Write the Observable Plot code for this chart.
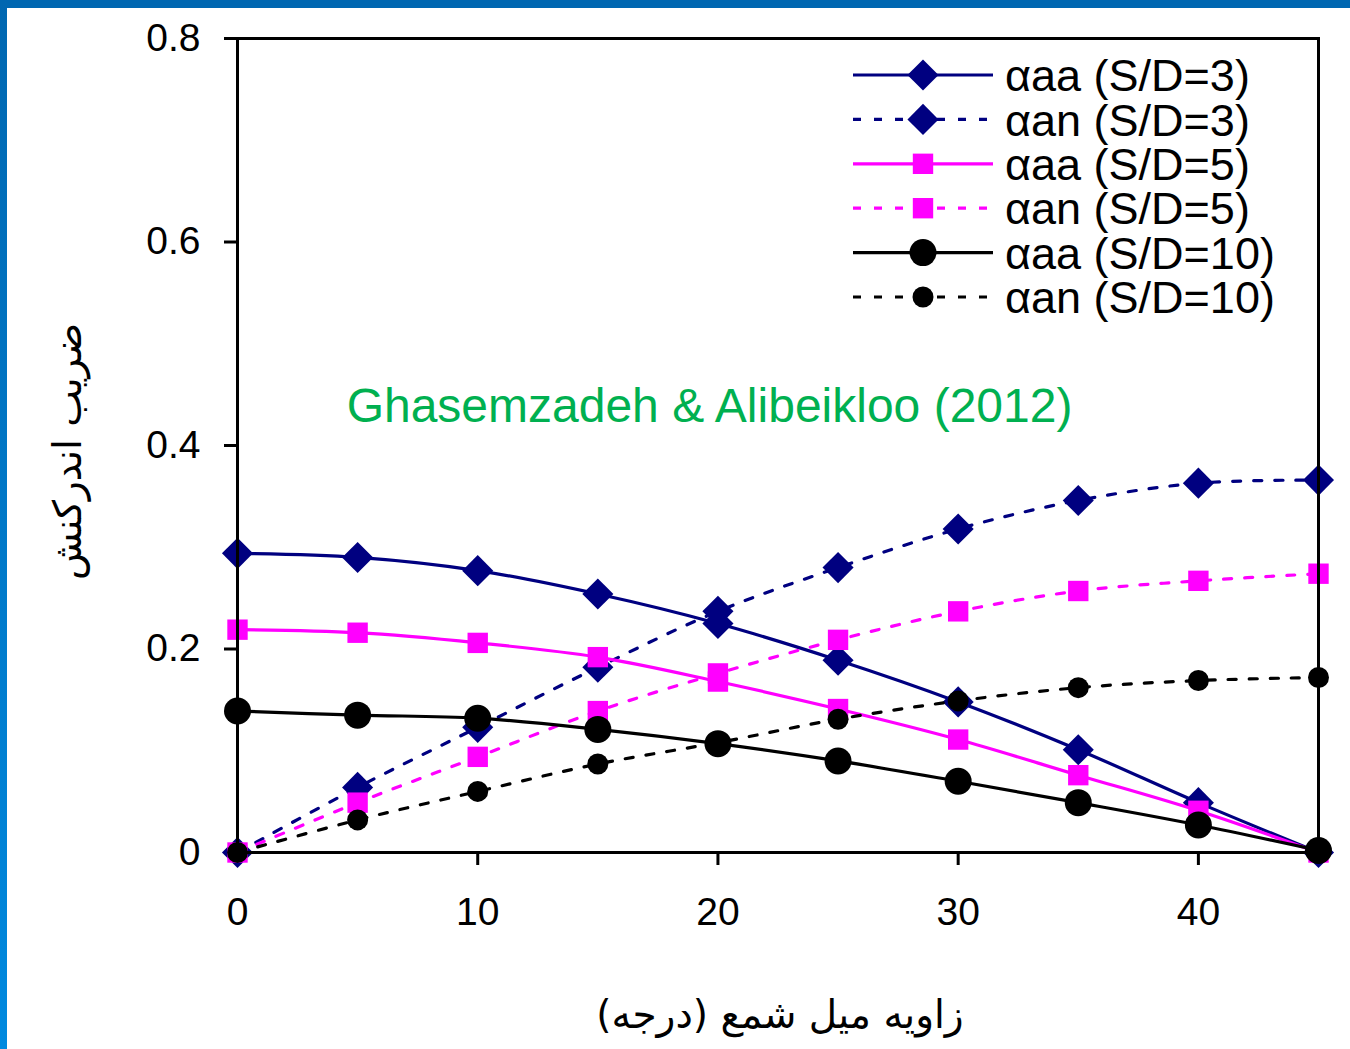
<!DOCTYPE html>
<html><head><meta charset="utf-8">
<script src="https://cdn.jsdelivr.net/npm/d3@7"></script>
<script src="https://cdn.jsdelivr.net/npm/@observablehq/plot@0.6"></script>
<style>
body{margin:0;background:#fff;overflow:hidden}
#wrap{position:relative;width:1350px;height:1049px;background:#fff}
#topbar{position:absolute;left:0;top:0;width:1350px;height:8px;background:#0067B1}
#leftbar{position:absolute;left:0;top:0;width:7px;height:1049px;background:linear-gradient(#0067B1,#0089DF)}
#chart{position:absolute;left:0;top:0}
</style></head><body>
<div id="wrap"><div id="chart"></div><div id="topbar"></div><div id="leftbar"></div></div>
<script>
// ---- data ----
const angles = [0, 5, 10, 15, 20, 25, 30, 35, 40, 45];
const aaaSD3 = [0.294, 0.290, 0.277, 0.254, 0.225, 0.189, 0.148, 0.101, 0.049, 0];
const anSD3  = [0, 0.064, 0.123, 0.182, 0.237, 0.280, 0.318, 0.346, 0.363, 0.366];
const aaaSD5 = [0.219, 0.216, 0.206, 0.192, 0.168, 0.141, 0.111, 0.076, 0.041, 0];
const anSD5  = [0, 0.049, 0.094, 0.139, 0.176, 0.209, 0.237, 0.257, 0.267, 0.274];
const aaaSD10 = [0.139, 0.135, 0.132, 0.121, 0.107, 0.090, 0.070, 0.049, 0.027, 0.002];
const anSD10  = [0, 0.032, 0.060, 0.087, 0.108, 0.131, 0.149, 0.162, 0.169, 0.172];
const seriesNames = ["αaa (S/D=3)", "αan (S/D=3)", "αaa (S/D=5)", "αan (S/D=5)", "αaa (S/D=10)", "αan (S/D=10)"];
const xTicks = [0, 10, 20, 30, 40];
const yTicks = [0, 0.2, 0.4, 0.6, 0.8];
const xLabel = ["زاویه میل شمع (درجه)"];
const yLabel = ["ضریب اندرکنش"];
const annotation = ["Ghasemzadeh & Alibeikloo (2012)"];

// ---- styles ----
const seriesValues = [aaaSD3, anSD3, aaaSD5, anSD5, aaaSD10, anSD10];
const styles = [
  {color: "#000080", dash: null, symbol: "diamond2", r: 14},
  {color: "#000080", dash: "8,13", symbol: "diamond2", r: 14},
  {color: "#FF00FF", dash: null, symbol: "square", r: 11.5},
  {color: "#FF00FF", dash: "8,13", symbol: "square", r: 11.5},
  {color: "#000000", dash: null, symbol: "circle", r: 13.5},
  {color: "#000000", dash: "8,13", symbol: "circle", r: 10.5}
];
const series = seriesNames.map((name, i) => ({
  name, style: styles[i],
  rows: angles.map((a, j) => ({x: a, y: seriesValues[i][j]}))
}));

const seriesMarks = series.flatMap(s => [
  Plot.line(s.rows, {x: "x", y: "y", stroke: s.style.color, strokeWidth: 3.2,
    strokeDasharray: s.style.dash ?? undefined, curve: "catmull-rom"}),
  Plot.dot(s.rows, {x: "x", y: "y", symbol: s.style.symbol, r: s.style.r,
    fill: s.style.color, stroke: "none"})
]);

const chart = Plot.plot({
  width: 1350, height: 1049,
  marginLeft: 237, marginRight: 32, marginTop: 38, marginBottom: 197,
  style: {fontFamily: "'Liberation Sans', Arial, sans-serif", fontSize: "39px", background: "transparent", color: "#000"},
  x: {domain: [0, 45]},
  y: {domain: [0, 0.8]},
  marks: [
    Plot.axisX({ticks: xTicks, tickSize: 13, tickPadding: 32, strokeWidth: 3, label: null, fontSize: 39, tickFormat: d => String(d)}),
    Plot.axisY({ticks: yTicks, tickSize: 13, tickPadding: 24, strokeWidth: 3, label: null, fontSize: 39, tickFormat: d => String(d)}),
    ...seriesMarks,
    Plot.frame({stroke: "#000", strokeWidth: 3}),
    Plot.text(annotation, {text: d => d, frameAnchor: "middle", dx: -68.5, dy: -38.5,
      fill: "#00B050", fontSize: 48, fontFamily: "'Liberation Sans', Arial, sans-serif"}),
    Plot.text(xLabel, {text: d => d + "\u200F", frameAnchor: "bottom", lineAnchor: "middle", dx: 2, dy: 163,
      fontSize: 39, fontFamily: "'DejaVu Sans', sans-serif", fill: "#000"}),
    Plot.text(yLabel, {text: d => d, frameAnchor: "left", lineAnchor: "middle", textAnchor: "middle", rotate: -90, dx: -169, dy: 6,
      fontSize: 39, fontFamily: "'DejaVu Sans', sans-serif", fill: "#000"})
  ]
});

// ---- legend (drawn inside the plot svg) ----
const svg = d3.select(chart);
const lg = svg.append("g").attr("class", "legend");
const symbolTypes = {diamond2: d3.symbolDiamond2, square: d3.symbolSquare, circle: d3.symbolCircle};
series.forEach((s, i) => {
  const y = 75 + i * 44.4;
  const row = lg.append("g");
  row.append("line").attr("x1", 853).attr("x2", 993).attr("y1", y).attr("y2", y)
    .attr("stroke", s.style.color).attr("stroke-width", 3.2)
    .attr("stroke-dasharray", s.style.dash);
  row.append("path")
    .attr("d", d3.symbol(symbolTypes[s.style.symbol], Math.PI * s.style.r * s.style.r)())
    .attr("transform", `translate(923,${y})`).attr("fill", s.style.color);
  row.append("text").attr("x", 1005).attr("y", y).attr("dy", "0.36em")
    .attr("text-anchor", "start")
    .style("text-anchor", "start")
    .style("font-size", "45px").style("font-family", "'Liberation Sans', Arial, sans-serif")
    .attr("fill", "#000").text(s.name);
});

document.getElementById("chart").appendChild(chart);
</script>
</body></html>
